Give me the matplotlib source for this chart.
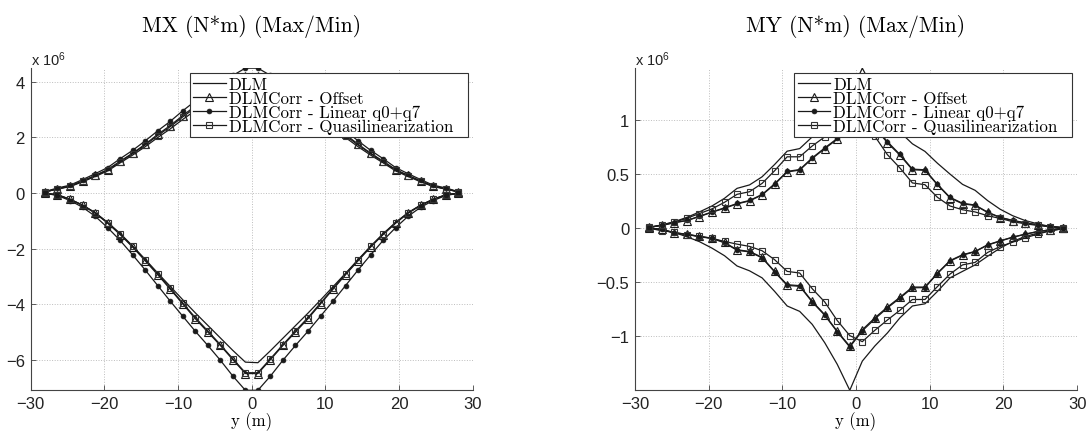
import matplotlib
matplotlib.use("Agg")
import matplotlib.pyplot as plt
from matplotlib.ticker import FuncFormatter

plt.rcParams["font.family"] = "Liberation Sans"
plt.rcParams["mathtext.default"] = "regular"

INK = "#1a1a1a"
AXC = "#444444"
SERIF = "cmr10"

# spanwise stations (m)
span = [-28.05, -26.35, -24.65, -22.95, -21.25, -19.55, -17.85, -16.15, -14.45,
        -12.75, -11.05, -9.35, -7.65, -5.95, -4.25, -2.55, -0.85,
        0.85, 2.55, 4.25, 5.95, 7.65, 9.35, 11.05, 12.75, 14.45,
        16.15, 17.85, 19.55, 21.25, 22.95, 24.65, 26.35, 28.05]

labels = ["DLM", "DLMCorr - Offset", "DLMCorr - Linear q0+q7",
          "DLMCorr - Quasilinearization"]

# MX envelopes, units of 1e6 N*m
mx_dlm_max = [0.04, 0.14, 0.23, 0.40, 0.59, 0.79, 1.08, 1.36, 1.66, 1.99, 2.30, 2.64, 2.96, 3.27, 3.55, 3.78, 3.96,
              3.96, 3.78, 3.55, 3.27, 2.96, 2.64, 2.30, 1.99, 1.66, 1.36, 1.08, 0.79, 0.59, 0.40, 0.23, 0.14, 0.04]
mx_off_max = [0.04, 0.15, 0.25, 0.43, 0.63, 0.84, 1.14, 1.43, 1.75, 2.10, 2.42, 2.78, 3.12, 3.44, 3.74, 4.00, 4.20,
              4.20, 4.00, 3.74, 3.44, 3.12, 2.78, 2.42, 2.10, 1.75, 1.43, 1.14, 0.84, 0.63, 0.43, 0.25, 0.15, 0.04]
mx_lin_max = [0.05, 0.18, 0.28, 0.48, 0.69, 0.91, 1.23, 1.53, 1.87, 2.23, 2.57, 2.95, 3.30, 3.63, 3.95, 4.22, 4.48,
              4.48, 4.22, 3.95, 3.63, 3.30, 2.95, 2.57, 2.23, 1.87, 1.53, 1.23, 0.91, 0.69, 0.48, 0.28, 0.18, 0.05]
mx_qsl_max = [0.04, 0.15, 0.24, 0.42, 0.62, 0.82, 1.12, 1.41, 1.72, 2.06, 2.38, 2.73, 3.06, 3.38, 3.67, 3.92, 4.12,
              4.12, 3.92, 3.67, 3.38, 3.06, 2.73, 2.38, 2.06, 1.72, 1.41, 1.12, 0.82, 0.62, 0.42, 0.24, 0.15, 0.04]
mx_dlm_min = [-0.01, -0.06, -0.22, -0.43, -0.70, -1.05, -1.45, -1.90, -2.38, -2.87, -3.35, -3.83, -4.30, -4.75, -5.20, -5.65, -6.07,
              -6.09, -5.66, -5.21, -4.76, -4.31, -3.84, -3.36, -2.88, -2.39, -1.91, -1.46, -1.05, -0.70, -0.43, -0.22, -0.06, -0.01]
mx_off_min = [-0.01, -0.07, -0.23, -0.44, -0.72, -1.08, -1.49, -1.94, -2.43, -2.93, -3.45, -3.98, -4.51, -4.99, -5.47, -5.98, -6.48,
              -6.48, -5.98, -5.47, -4.99, -4.51, -3.98, -3.45, -2.93, -2.43, -1.94, -1.49, -1.08, -0.72, -0.44, -0.23, -0.07, -0.01]
mx_lin_min = [-0.01, -0.09, -0.27, -0.51, -0.83, -1.24, -1.70, -2.22, -2.76, -3.32, -3.88, -4.42, -4.96, -5.47, -6.00, -6.57, -7.08,
              -7.08, -6.57, -6.00, -5.47, -4.96, -4.42, -3.88, -3.32, -2.76, -2.22, -1.70, -1.24, -0.83, -0.51, -0.27, -0.09, -0.01]
mx_qsl_min = [-0.01, -0.07, -0.23, -0.44, -0.71, -1.07, -1.47, -1.92, -2.40, -2.90, -3.42, -3.95, -4.47, -4.95, -5.44, -5.95, -6.45,
              -6.45, -5.95, -5.44, -4.95, -4.47, -3.95, -3.42, -2.90, -2.40, -1.92, -1.47, -1.07, -0.71, -0.44, -0.23, -0.07, -0.01]

# MY envelopes, units of 1e6 N*m
my_dlm_max = [0.003, 0.03, 0.06, 0.10, 0.15, 0.205, 0.276, 0.368, 0.40, 0.475, 0.589, 0.712, 0.736, 0.844, 0.936, 1.07, 1.23,
              1.48, 1.26, 1.06, 0.89, 0.78, 0.71, 0.60, 0.50, 0.405, 0.35, 0.255, 0.175, 0.115, 0.07, 0.04, 0.015, 0.004]
my_off_max = [0.01, 0.025, 0.05, 0.07, 0.107, 0.147, 0.184, 0.224, 0.252, 0.307, 0.405, 0.52, 0.537, 0.644, 0.736, 0.822, 0.94,
              1.09, 0.93, 0.79, 0.675, 0.54, 0.535, 0.40, 0.28, 0.225, 0.21, 0.145, 0.098, 0.07, 0.048, 0.03, 0.015, 0.005]
my_lin_max = [0.01, 0.026, 0.052, 0.072, 0.11, 0.15, 0.188, 0.228, 0.256, 0.312, 0.41, 0.525, 0.542, 0.65, 0.742, 0.83, 0.95,
              1.10, 0.94, 0.80, 0.682, 0.546, 0.54, 0.405, 0.285, 0.23, 0.214, 0.148, 0.10, 0.072, 0.05, 0.031, 0.016, 0.005]
my_qsl_max = [0.006, 0.03, 0.055, 0.092, 0.135, 0.178, 0.239, 0.313, 0.337, 0.414, 0.531, 0.66, 0.66, 0.76, 0.844, 0.945, 1.05,
              0.994, 0.85, 0.68, 0.557, 0.418, 0.402, 0.285, 0.205, 0.17, 0.15, 0.115, 0.09, 0.06, 0.04, 0.025, 0.012, 0.004]
my_dlm_min = [-0.003, -0.012, -0.04, -0.08, -0.125, -0.185, -0.255, -0.35, -0.395, -0.46, -0.585, -0.72, -0.77, -0.89, -1.06, -1.26, -1.50,
              -1.23, -1.09, -0.97, -0.83, -0.72, -0.70, -0.585, -0.46, -0.40, -0.34, -0.26, -0.185, -0.123, -0.077, -0.046, -0.025, -0.005]
my_off_min = [0.0, -0.01, -0.046, -0.055, -0.077, -0.092, -0.132, -0.20, -0.215, -0.27, -0.40, -0.523, -0.532, -0.677, -0.80, -0.954, -1.092,
              -0.94, -0.83, -0.73, -0.64, -0.545, -0.545, -0.415, -0.30, -0.246, -0.215, -0.154, -0.117, -0.083, -0.055, -0.031, -0.015, 0.0]
my_lin_min = [0.0, -0.011, -0.048, -0.058, -0.08, -0.095, -0.136, -0.205, -0.22, -0.275, -0.405, -0.53, -0.538, -0.683, -0.806, -0.96, -1.10,
              -0.95, -0.84, -0.738, -0.648, -0.552, -0.55, -0.42, -0.305, -0.25, -0.218, -0.157, -0.12, -0.085, -0.057, -0.032, -0.016, 0.0]
my_qsl_min = [0.0, -0.025, -0.037, -0.06, -0.075, -0.095, -0.123, -0.148, -0.169, -0.209, -0.292, -0.40, -0.415, -0.56, -0.683, -0.855, -0.994,
              -1.05, -0.945, -0.85, -0.76, -0.66, -0.66, -0.54, -0.425, -0.34, -0.317, -0.225, -0.17, -0.13, -0.09, -0.055, -0.025, -0.005]

styles = [
    dict(marker=None),
    dict(marker="^", ms=5.2, mfc="none", mec=INK, mew=0.8),
    dict(marker="o", ms=3.5, mfc=INK, mec=INK, mew=0.5),
    dict(marker="s", ms=4.2, mfc="none", mec="#333333", mew=0.8),
]


def tick_fmt(v, _):
    s = f"{v:g}"
    return s.replace("-", "\u2212")


def draw_panel(ax, maxima, minima, title, ylim, yticks):
    handles = []
    for ymax, ymin, st, lab in zip(maxima, minima, styles, labels):
        h, = ax.plot(span, ymax, color=INK, lw=0.9, label=lab, **st)
        ax.plot(span, ymin, color=INK, lw=0.9, **st)
        handles.append(h)
    ax.set_xlim(-30, 30)
    ax.set_ylim(*ylim)
    ax.set_xticks(range(-30, 31, 10))
    ax.set_yticks(yticks)
    ax.xaxis.set_major_formatter(FuncFormatter(tick_fmt))
    ax.yaxis.set_major_formatter(FuncFormatter(tick_fmt))
    ax.grid(True, ls=":", color="#bdbdbd", lw=0.7)
    for side in ("top", "right"):
        ax.spines[side].set_visible(False)
    for side in ("left", "bottom"):
        ax.spines[side].set_color(AXC)
        ax.spines[side].set_linewidth(0.8)
    ax.tick_params(direction="in", length=3.5, width=0.6, color=AXC,
                   labelsize=12, labelcolor="#222222", pad=4)
    ax.set_title(title, fontfamily=SERIF, fontsize=15.5, pad=27)
    ax.set_xlabel("y (m)", fontfamily=SERIF, fontsize=12, labelpad=0)
    ax.text(0, 1.0, r"x 10$^{6}$", transform=ax.transAxes, fontsize=10.5,
            ha="left", va="bottom", color="#222222")
    # legend box stretched over a fixed frame in the upper right corner
    leg = ax.legend(handles=handles, loc="upper left", mode="expand",
                    bbox_to_anchor=(0.3605, 0.5, 0.6285, 0.4836),
                    prop={"family": SERIF, "size": 12.2},
                    fancybox=False, framealpha=1, edgecolor="#333333",
                    borderaxespad=0.0, borderpad=0.2, handlelength=1.9,
                    handletextpad=0.2, labelspacing=-0.08)
    leg.get_frame().set_linewidth(0.8)


fig = plt.figure(figsize=(10.91, 4.35), dpi=100)
ax_l = fig.add_axes([0.028, 0.1005, 0.4053, 0.7405])
ax_r = fig.add_axes([0.582, 0.1005, 0.4053, 0.7405])

draw_panel(ax_l, [mx_dlm_max, mx_off_max, mx_lin_max, mx_qsl_max],
           [mx_dlm_min, mx_off_min, mx_lin_min, mx_qsl_min],
           "MX (N*m) (Max/Min)", (-7.08, 4.48), [-6, -4, -2, 0, 2, 4])
draw_panel(ax_r, [my_dlm_max, my_off_max, my_lin_max, my_qsl_max],
           [my_dlm_min, my_off_min, my_lin_min, my_qsl_min],
           "MY (N*m) (Max/Min)", (-1.5, 1.48), [-1, -0.5, 0, 0.5, 1])

fig.savefig("out.png", dpi=100)
